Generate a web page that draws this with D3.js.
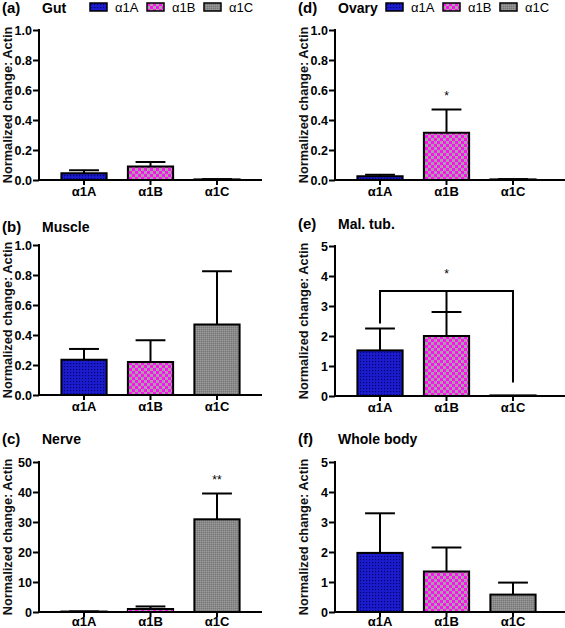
<!DOCTYPE html>
<html><head><meta charset="utf-8">
<script src="https://cdn.jsdelivr.net/npm/d3@7"></script>
<style>
html,body{margin:0;padding:0;background:#fff;}
svg{display:block;font-family:"Liberation Sans",Arial,Helvetica,sans-serif;}
</style></head>
<body>
<svg id="chart" width="565" height="628"></svg>
<script>
// ---- data ----
const categories = ["α1A", "α1B", "α1C"];
const ticksFrac = [0, 0.2, 0.4, 0.6, 0.8, 1.0];
const ticks50 = [0, 10, 20, 30, 40, 50];
const ticks5 = [0, 1, 2, 3, 4, 5];

const gutMean = [0.045, 0.09, 0.004];
const gutErr = [0.02, 0.03, 0.002];
const muscleMean = [0.235, 0.22, 0.47];
const muscleErr = [0.072, 0.145, 0.355];
const nerveMean = [0.15, 1.0, 30.9];
const nerveErr = [0.05, 0.85, 8.6];
const ovaryMean = [0.025, 0.315, 0.004];
const ovaryErr = [0.01, 0.155, 0.002];
const malMean = [1.52, 2.0, 0.02];
const malErr = [0.73, 0.8, 0.0];
const wholeMean = [1.97, 1.35, 0.58];
const wholeErr = [1.32, 0.8, 0.4];

const malBracket = [3.5, 2.42, 2.8, 0.45]; // bracket level, leg ends A, B, C
const sigStars = {ovary: ["", "*", ""], nerve: ["", "", "**"]};

const svg = d3.select("#chart");
const defs = svg.append("defs");

// patterns
const pBlue = defs.append("pattern").attr("id", "pA").attr("patternUnits", "userSpaceOnUse").attr("width", 3).attr("height", 3);
pBlue.append("rect").attr("width", 3).attr("height", 3).attr("fill", "#1c1ccf");
pBlue.append("rect").attr("x", 1).attr("y", 1).attr("width", 1.2).attr("height", 1.2).attr("fill", "#00006e");

const pPink = defs.append("pattern").attr("id", "pB").attr("patternUnits", "userSpaceOnUse").attr("width", 6).attr("height", 6);
pPink.append("rect").attr("width", 6).attr("height", 6).attr("fill", "#ff10f0");
pPink.append("rect").attr("x", 0).attr("y", 0).attr("width", 3).attr("height", 3).attr("fill", "#a8a0a8");
pPink.append("rect").attr("x", 3).attr("y", 3).attr("width", 3).attr("height", 3).attr("fill", "#a8a0a8");

const pGray = defs.append("pattern").attr("id", "pC").attr("patternUnits", "userSpaceOnUse").attr("width", 2).attr("height", 2);
pGray.append("rect").attr("width", 2).attr("height", 2).attr("fill", "#8a8a8a");
pGray.append("rect").attr("x", 0).attr("y", 0).attr("width", 1).attr("height", 1).attr("fill", "#777");
pGray.append("rect").attr("x", 1).attr("y", 1).attr("width", 1).attr("height", 1).attr("fill", "#999");

const fills = ["url(#pA)", "url(#pB)", "url(#pC)"];

function panel(opt) {
  const g = svg.append("g").attr("transform", `translate(${opt.x},${opt.y})`);
  const h = 150;
  const y = d3.scaleLinear().domain([opt.ticks[0], opt.ticks[opt.ticks.length - 1]]).range([h, 0]);
  const x = d3.scaleBand().domain(categories).range([0, 223]).paddingInner(0.32).paddingOuter(0.337);
  const bw = x.bandwidth();

  // title
  g.append("text").attr("x", -37).attr("y", opt.titleY).attr("font-size", 15).attr("font-weight", "bold").text(opt.label);
  g.append("text").attr("x", 3).attr("y", opt.titleY).attr("font-size", 14).attr("font-weight", "bold").text(opt.title);

  // y label
  g.append("text").attr("transform", `translate(-27,${h / 2}) rotate(-90)`)
    .attr("text-anchor", "middle").attr("font-size", 12.8).attr("font-weight", "bold").attr("fill", "#111")
    .text("Normalized change: Actin");

  // bars
  categories.forEach((c, i) => {
    const m = opt.mean[i], e = opt.err[i];
    const cx = x(c) + bw / 2;
    const top = y(m), capY = y(m + e);
    if (e > 0) {
      g.append("line").attr("x1", cx).attr("x2", cx).attr("y1", top).attr("y2", capY).attr("stroke", "#000").attr("stroke-width", 2);
      g.append("line").attr("x1", cx - bw * 0.33).attr("x2", cx + bw * 0.33).attr("y1", capY).attr("y2", capY).attr("stroke", "#000").attr("stroke-width", 2);
    }
    g.append("rect").attr("x", x(c)).attr("y", top).attr("width", bw).attr("height", Math.max(0, h - top))
      .attr("fill", fills[i]).attr("stroke", "#000").attr("stroke-width", 2);
    if (opt.stars && opt.stars[i]) {
      g.append("text").attr("x", cx).attr("y", y(m + e) - 10).attr("text-anchor", "middle").attr("font-size", 12).text(opt.stars[i]);
    }
  });

  // bracket
  if (opt.bracket) {
    const [lvl, la, lb, lc] = opt.bracket;
    const xs = categories.map(c => x(c) + bw / 2);
    const path = d3.path();
    path.moveTo(xs[0], y(la)); path.lineTo(xs[0], y(lvl)); path.lineTo(xs[2], y(lvl)); path.lineTo(xs[2], y(lc));
    path.moveTo(xs[1], y(lvl)); path.lineTo(xs[1], y(lb));
    g.append("path").attr("d", path.toString()).attr("fill", "none").attr("stroke", "#000").attr("stroke-width", 2);
    g.append("text").attr("x", xs[1]).attr("y", y(4.1) + 5).attr("text-anchor", "middle").attr("font-size", 12).text("*");
  }

  // y axis
  const ya = g.append("g").call(d3.axisLeft(y).tickValues(opt.ticks).tickSize(6).tickPadding(1).tickFormat(opt.fmt));
  ya.select(".domain").remove();
  ya.selectAll(".tick line").attr("stroke", "#000").attr("stroke-width", 2);
  ya.selectAll(".tick text").attr("font-size", 12.5).attr("font-weight", "bold").attr("fill", "#000").attr("font-family", "Liberation Sans, Arial, sans-serif");
  g.append("line").attr("x1", 0).attr("x2", 0).attr("y1", -1).attr("y2", h + 1).attr("stroke", "#000").attr("stroke-width", 2);

  // x axis
  const xa = g.append("g").attr("transform", `translate(0,${h})`).call(d3.axisBottom(x).tickSize(5).tickPadding(opt.xPad));
  xa.select(".domain").remove();
  xa.selectAll(".tick line").attr("stroke", "#000").attr("stroke-width", 2);
  xa.selectAll(".tick text").attr("font-size", 13).attr("font-weight", "bold").attr("fill", "#000").attr("font-family", "Liberation Sans, Arial, sans-serif");
  g.append("line").attr("x1", -1).attr("x2", opt.axisLen).attr("y1", h).attr("y2", h).attr("stroke", "#000").attr("stroke-width", 2);

  // legend
  if (opt.legend) {
    categories.forEach((c, i) => {
      const lx = 51 + i * 57;
      g.append("rect").attr("x", lx).attr("y", -27).attr("width", 17).attr("height", 8)
        .attr("fill", fills[i]).attr("stroke", "#000").attr("stroke-width", 1.5);
      g.append("text").attr("x", lx + 25).attr("y", -18).attr("font-size", 13).text(c);
    });
  }
}

const fmt1 = d3.format(".1f"), fmt0 = d3.format("d");
panel({x: 39, y: 30, label: "(a)", title: "Gut", titleY: -17, mean: gutMean, err: gutErr, ticks: ticksFrac, fmt: fmt1, axisLen: 223, legend: true, xPad: 2});
panel({x: 39, y: 245, label: "(b)", title: "Muscle", titleY: -13, mean: muscleMean, err: muscleErr, ticks: ticksFrac, fmt: fmt1, axisLen: 223, xPad: 2});
panel({x: 39, y: 462, label: "(c)", title: "Nerve", titleY: -18, mean: nerveMean, err: nerveErr, ticks: ticks50, fmt: fmt0, axisLen: 223, stars: sigStars.nerve, xPad: 0});
panel({x: 335, y: 30, label: "(d)", title: "Ovary", titleY: -17, mean: ovaryMean, err: ovaryErr, ticks: ticksFrac, fmt: fmt1, axisLen: 232, legend: true, stars: sigStars.ovary, xPad: 2});
panel({x: 335, y: 246, label: "(e)", title: "Mal. tub.", titleY: -17, mean: malMean, err: malErr, ticks: ticks5, fmt: fmt0, axisLen: 232, bracket: malBracket, xPad: 2});
panel({x: 335, y: 462, label: "(f)", title: "Whole body", titleY: -18, mean: wholeMean, err: wholeErr, ticks: ticks5, fmt: fmt0, axisLen: 232, xPad: 0});
</script>
</body></html>
